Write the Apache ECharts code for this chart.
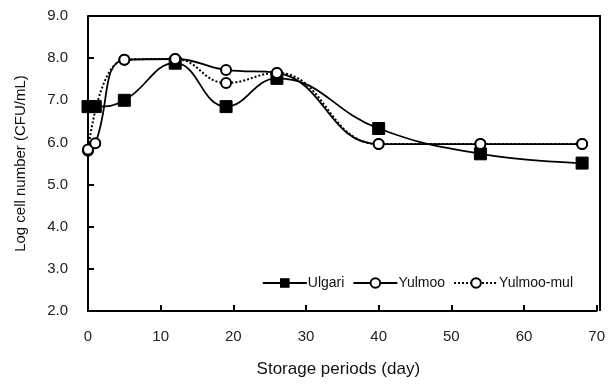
<!DOCTYPE html>
<html>
<head>
<meta charset="utf-8">
<script src="https://cdn.jsdelivr.net/npm/echarts@6/dist/echarts.min.js"></script>
<style>
  html, body { margin: 0; padding: 0; background: #fff; }
  #chart { width: 608px; height: 385px; }
</style>
</head>
<body>
<div id="chart"></div>
<script>
// storage days and log counts
const days = [0, 1, 5, 12, 19, 26, 40, 54, 68];
const ulgari = [6.85, 6.85, 7.0, 7.88, 6.85, 7.52, 6.33, 5.73, 5.51];
const yulmoo = [5.83, 5.98, 7.96, 7.98, 7.72, 7.65, 5.96, 5.96, 5.96];
const yulmooMulDays = [0, 5, 12, 19, 26, 40, 54, 68];
const yulmooMul = [5.8, 7.96, 7.98, 7.41, 7.65, 5.96, 5.96, 5.96];

const pairs = (xs, ys) => xs.map((x, i) => [x, ys[i]]);

const chart = echarts.init(document.getElementById('chart'));
const font = 'Liberation Sans, Arial, sans-serif';

chart.setOption({
    animation: false,
    grid: { left: 88, right: 8, top: 16, bottom: 74 },
    legend: {
        right: 30, top: 271,
        itemWidth: 44, itemHeight: 12, itemGap: 8,
        textStyle: { fontFamily: font, fontSize: 14, color: '#111', padding: [0, 0, 0, -4] },
        data: ['Ulgari', 'Yulmoo', 'Yulmoo-mul']
    },
    xAxis: {
        type: 'value', min: 0, max: 70, interval: 10,
        name: 'Storage periods (day)', nameLocation: 'middle', nameGap: 50,
        nameTextStyle: { fontFamily: font, fontSize: 17, color: '#111', padding: [0, 8, 0, 0] },
        axisLine: { lineStyle: { color: '#000', width: 2 } },
        axisTick: { inside: true, length: 6, lineStyle: { color: '#000', width: 2 } },
        axisLabel: { fontFamily: font, fontSize: 15, color: '#222', margin: 18 },
        splitLine: { show: false }
    },
    yAxis: {
        type: 'value', min: 2, max: 9, interval: 1,
        name: 'Log cell number (CFU/mL)', nameLocation: 'middle', nameGap: 60,
        nameTextStyle: { fontFamily: font, fontSize: 15, color: '#111' },
        axisLine: { show: true, lineStyle: { color: '#000', width: 2 } },
        axisTick: { show: true, inside: true, length: 6, lineStyle: { color: '#000', width: 2 } },
        axisLabel: { fontFamily: font, fontSize: 15, color: '#222', margin: 20,
                     formatter: v => v.toFixed(1) },
        splitLine: { show: false }
    },
    graphic: [{
        // top and right frame of the plot box
        type: 'polyline', silent: true,
        shape: { points: [[88, 16], [600, 16], [600, 311]] },
        style: { stroke: '#000', lineWidth: 2, fill: null }
    }],
    series: [
        {
            name: 'Ulgari', type: 'line', smooth: 0.45,
            data: pairs(days, ulgari),
            symbol: 'rect', symbolSize: 12,
            itemStyle: { color: '#000', borderColor: '#000' },
            lineStyle: { color: '#000', width: 1.8 },
            z: 3
        },
        {
            name: 'Yulmoo', type: 'line', smooth: 0.45,
            data: pairs(days, yulmoo),
            symbol: 'circle', symbolSize: 10,
            itemStyle: { color: '#fff', borderColor: '#000', borderWidth: 2 },
            lineStyle: { color: '#000', width: 1.8 },
            z: 4
        },
        {
            name: 'Yulmoo-mul', type: 'line', smooth: 0.45,
            data: pairs(yulmooMulDays, yulmooMul),
            symbol: 'circle', symbolSize: 10,
            itemStyle: { color: '#fff', borderColor: '#000', borderWidth: 2 },
            lineStyle: { color: '#000', width: 2, type: 'dotted' },
            z: 2
        }
    ]
});
</script>
</body>
</html>
